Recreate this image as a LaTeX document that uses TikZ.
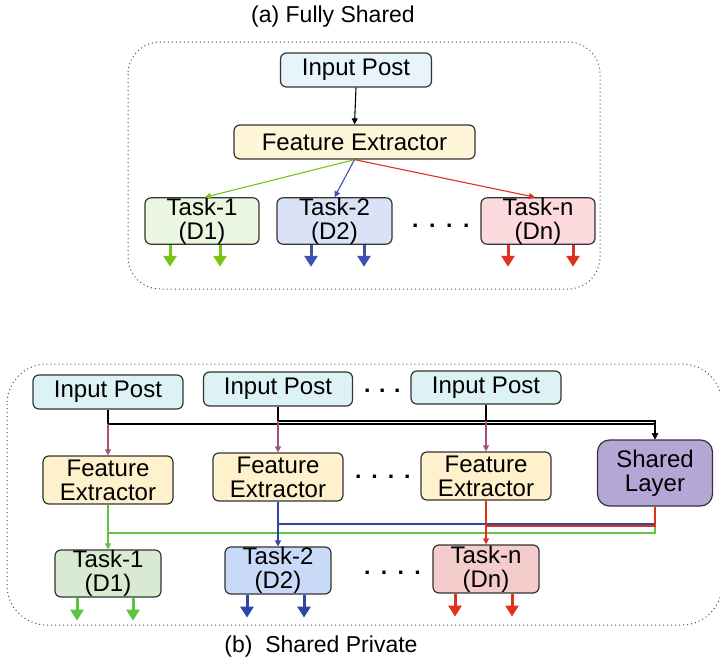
\documentclass[tikz,border=0pt]{standalone}
\usepackage{fontspec}
\setmainfont{Liberation Sans}
\usetikzlibrary{arrows.meta}
\definecolor{boxline}{HTML}{333333}
\definecolor{ipA}{HTML}{E7F4FB}
\definecolor{feA}{HTML}{FFF5D8}
\definecolor{tiA}{HTML}{EAF6DF}
\definecolor{tiiA}{HTML}{DAE2F6}
\definecolor{tnA}{HTML}{FBD9DD}
\definecolor{ipB}{HTML}{DDF2F5}
\definecolor{feB}{HTML}{FFF1CC}
\definecolor{tiB}{HTML}{D9EAD3}
\definecolor{tiiB}{HTML}{C9DAF8}
\definecolor{tnB}{HTML}{F4CCCC}
\definecolor{slB}{HTML}{B4A7D6}
\definecolor{grA}{HTML}{78C414}
\definecolor{blA}{HTML}{4050B0}
\definecolor{rdA}{HTML}{E03020}
\definecolor{grB}{HTML}{5CC440}
\definecolor{blB}{HTML}{2F46A8}
\definecolor{rdB}{HTML}{E0301E}
\definecolor{puB}{HTML}{A8507F}
\begin{document}
\begin{tikzpicture}[x=1pt,y=-1pt,
  box/.style={draw=boxline, line width=1.2pt, rounded corners=6pt, inner sep=0pt,
    align=center, font=\fontsize{24}{24}\selectfont},
  lbl/.style={inner sep=0pt, font=\fontsize{23}{24}\selectfont},
  dotrow/.style={inner sep=0pt, anchor=base west, font=\fontsize{23}{24}\selectfont\bfseries},
  conn/.style={line width=1.1pt, -{Triangle[width=6pt,length=6pt]}},
  outarr/.style={line width=3pt, -{Triangle[width=13pt,length=11pt]}},
  panel/.style={draw=black!70, line width=1pt, dash pattern=on 1pt off 3pt}
]
\useasboundingbox (0,0) rectangle (720,664);

% ---------- (a) Fully Shared ----------
\node[lbl] (capA) at (333,17) {(a) Fully Shared};
\draw[panel, rounded corners=32pt] (128,42) rectangle (600,289);

\node[box, fill=ipA, minimum width=151pt, minimum height=34pt] (ipa) at (356,70) {Input Post};
\node[box, fill=feA, minimum width=241pt, minimum height=34pt] (fea) at (354.5,142) {Feature Extractor};
\node[box, fill=tiA, minimum width=114pt, minimum height=46pt] (t1a) at (202,221) {Task-1\\(D1)};
\node[box, fill=tiiA, minimum width=115pt, minimum height=46pt] (t2a) at (334.5,221) {Task-2\\(D2)};
\node[box, fill=tnA, minimum width=114pt, minimum height=46pt] (tna) at (538,221) {Task-n\\(Dn)};
\node[dotrow] (dotsa) at (412,227) {.\hspace{10.6pt}.\hspace{10.6pt}.\hspace{10.6pt}.};

\draw[conn, black] (ipa.south) -- (fea.north);
\draw[conn, grA] (fea.south) -- ([xshift=3pt]t1a.north);
\draw[conn, blA] (fea.south) -- (t2a.north);
\draw[conn, rdA] (fea.south) -- ([xshift=-3pt]tna.north);

\draw[outarr, grA] ([xshift=-32pt]t1a.south) -- ++(0,22);
\draw[outarr, grA] ([xshift=18pt]t1a.south) -- ++(0,22);
\draw[outarr, blA] ([xshift=-23.5pt]t2a.south) -- ++(0,22);
\draw[outarr, blA] ([xshift=29.5pt]t2a.south) -- ++(0,22);
\draw[outarr, rdA] ([xshift=-30pt]tna.south) -- ++(0,22);
\draw[outarr, rdA] ([xshift=35pt]tna.south) -- ++(0,22);

% ---------- (b) Shared Private ----------
\node[lbl] (capB) at (321,647) {(b)~~Shared Private};
\draw[panel, rounded corners=40pt] (7,364) rectangle (722,625);

\node[box, fill=ipB, minimum width=150pt, minimum height=34pt] (ip1) at (108,392) {Input Post};
\node[box, fill=ipB, minimum width=149pt, minimum height=34pt] (ip2) at (278,389) {Input Post};
\node[box, fill=ipB, minimum width=150pt, minimum height=33pt] (ip3) at (486,387.5) {Input Post};
\node[dotrow] (dotsb1) at (364,392) {.\hspace{8.6pt}.\hspace{8.6pt}.};

\node[box, fill=feB, minimum width=130pt, minimum height=48pt] (fe1) at (108,480) {Feature\\Extractor};
\node[box, fill=feB, minimum width=130pt, minimum height=48pt] (fe2) at (278,477) {Feature\\Extractor};
\node[box, fill=feB, minimum width=130pt, minimum height=48pt] (fe3) at (486,476) {Feature\\Extractor};
\node[dotrow] (dotsb2) at (355,478) {.\hspace{9.9pt}.\hspace{9.9pt}.\hspace{9.9pt}.};
\node[box, fill=slB, rounded corners=12pt, minimum width=115pt, minimum height=66pt] (sl) at (655,473) {Shared\\Layer};

\node[box, fill=tiB, minimum width=106pt, minimum height=47pt] (t1) at (108,573.5) {Task-1\\(D1)};
\node[box, fill=tiiB, minimum width=106pt, minimum height=47pt] (t2) at (278,570.5) {Task-2\\(D2)};
\node[box, fill=tnB, minimum width=106pt, minimum height=48pt] (tn) at (486,569) {Task-n\\(Dn)};
\node[dotrow] (dotsb3) at (364,574) {.\hspace{10.3pt}.\hspace{10.3pt}.\hspace{10.3pt}.};

% input posts to feature extractors and shared layer
\coordinate (j1) at (108,424);
\coordinate (j2) at (278,421);
\coordinate (j3) at (486,421);
\draw[line width=1.3pt, black] (ip1.south) -- (j1);
\draw[line width=1.3pt, black] (ip2.south) -- (j2);
\draw[line width=1.3pt, black] (ip3.south) -- (j3);
\draw[conn, line width=1.3pt, black] (j1) -| (sl.north);
\draw[conn, line width=1.3pt, black] (j2) -| (sl.north);
\draw[conn, puB] (j1) -- (fe1.north);
\draw[conn, puB] (j2) -- (fe2.north);
\draw[conn, puB] (j3) -- (fe3.north);

% shared layer outputs
\coordinate (g1) at (108,533);
\coordinate (b2) at (278,524);
\coordinate (r3) at (486,526);
\draw[line width=1.3pt, grB] (sl.south) |- (g1);
\draw[line width=1.3pt, blB] (sl.south) |- (b2);
\draw[line width=1.3pt, rdB] (sl.south) |- (r3);

% feature extractors to tasks
\draw[conn, line width=1.4pt, grB] (fe1.south) -- (t1.north);
\draw[conn, line width=1.3pt, blB] (fe2.south) -- (t2.north);
\draw[conn, line width=1.3pt, rdB] (fe3.south) -- (tn.north);

% task outputs
\draw[outarr, grB] ([xshift=-31pt]t1.south) -- ++(0,23);
\draw[outarr, grB] ([xshift=25pt]t1.south) -- ++(0,23);
\draw[outarr, blB] ([xshift=-31pt]t2.south) -- ++(0,23);
\draw[outarr, blB] ([xshift=26pt]t2.south) -- ++(0,23);
\draw[outarr, rdB] ([xshift=-31pt]tn.south) -- ++(0,23);
\draw[outarr, rdB] ([xshift=26pt]tn.south) -- ++(0,23);
\end{tikzpicture}
\end{document}
